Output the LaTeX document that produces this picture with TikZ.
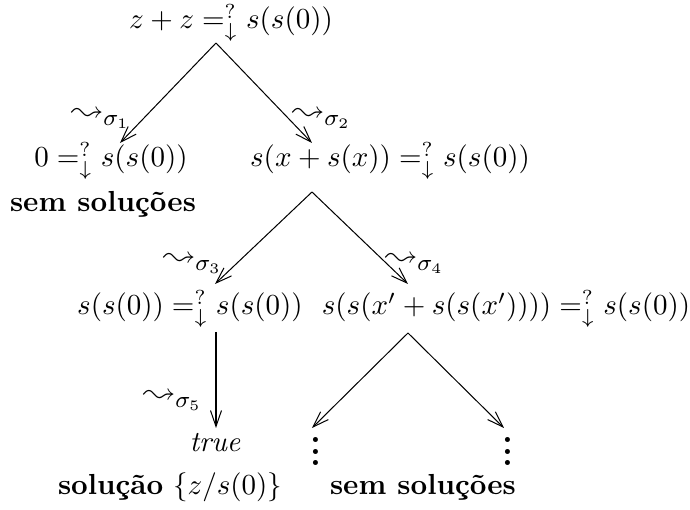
\documentclass[tikz,border=0pt]{standalone}
\usepackage{latexsym}
\usetikzlibrary{arrows.meta}
\begin{document}
\begin{tikzpicture}[x=0.3448pt,y=-0.3448pt,
  tx/.style={inner sep=0pt, anchor=base},
  lbl/.style={inner sep=0pt, anchor=base west, font=\fontsize{11}{13}\selectfont},
  dotsnode/.style={inner sep=0pt, font=\bfseries\large},
  edgearr/.style={line width=0.35pt, -{Straight Barb[length=5.5pt,width=3.8pt]}}]
\useasboundingbox (0,0) rectangle (690,510);

% texts
\node[tx] (n0) at (231,29) {$z+z =^?_\downarrow s(s(0))$};
\node[tx] (n1) at (111,167) {$0 =^?_\downarrow s(s(0))$};
\node[tx] (n1s) at (103,212) {\textbf{sem soluções}};
\node[tx] (n2) at (390,167) {$s(x+s(x)) =^?_\downarrow s(s(0))$};
\node[tx] (n3) at (190,315) {$s(s(0)) =^?_\downarrow s(s(0))$};
\node[tx] (n4) at (506,315) {$s(s(x'+s(s(x')))) =^?_\downarrow s(s(0))$};
\node[tx] (n5) at (216,452) {$\mathit{true}$};
\node[tx] (n5s) at (170,495) {\textbf{solução} $\{z/s(0)\}$};
\node[dotsnode] (d1) at (316,443) {\vdots};
\node[dotsnode] (d2) at (508,443) {\vdots};
\node[tx] (n6s) at (423,495) {\textbf{sem soluções}};

% labels
\node[lbl] (l1) at (71,121) {$\leadsto_{\sigma_1}$};
\node[lbl] (l2) at (292,121) {$\leadsto_{\sigma_2}$};
\node[lbl] (l3) at (163,266) {$\leadsto_{\sigma_3}$};
\node[lbl] (l4) at (385,266) {$\leadsto_{\sigma_4}$};
\node[lbl] (l5) at (143,403) {$\leadsto_{\sigma_5}$};

% connector points
\coordinate (a0) at (216,43);
\coordinate (t1) at (120,143);
\coordinate (t2) at (312,143);
\coordinate (a2) at (312,192);
\coordinate (t3) at (215,284);
\coordinate (t4) at (408,284);
\coordinate (a3) at (216,332);
\coordinate (t5) at (216,428);
\coordinate (a4) at (408,333);
\coordinate (t6) at (312,428);
\coordinate (t7) at (504,428);

\draw[edgearr] (a0) -- (t1);
\draw[edgearr] (a0) -- (t2);
\draw[edgearr] (a2) -- (t3);
\draw[edgearr] (a2) -- (t4);
\draw[edgearr] (a3) -- (t5);
\draw[edgearr] (a4) -- (t6);
\draw[edgearr] (a4) -- (t7);
\end{tikzpicture}
\end{document}
